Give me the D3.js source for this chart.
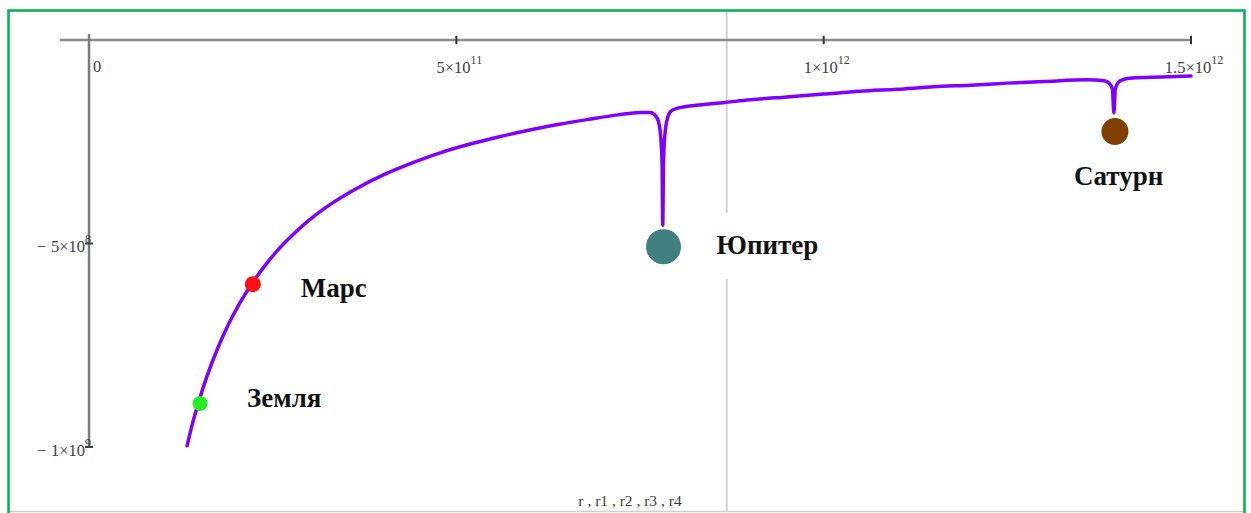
<!DOCTYPE html>
<html>
<head>
<meta charset="utf-8">
<script src="https://cdn.jsdelivr.net/npm/d3@7"></script>
<style>
  html, body { margin: 0; padding: 0; background: #fff; }
  svg { display: block; }
</style>
</head>
<body>
<svg id="chart" width="1251" height="513"></svg>
<script>
// Gravitational potential of the Sun along the radius, with wells of the planets.
// Radii in metres, potential in J/kg.
const curveR = [
  1.335e11, 1.40e11, 1.50e11, 1.60e11, 1.75e11, 1.90e11, 2.05e11, 2.23e11, 2.40e11,
  2.60e11, 2.80e11, 3.00e11, 3.30e11, 3.60e11, 4.00e11, 4.40e11, 4.80e11, 5.20e11,
  5.60e11, 6.00e11, 6.40e11, 6.80e11, 7.20e11, 7.50e11, 7.64e11, 7.71e11, 7.75e11,
  7.78e11, 7.80e11, 7.81e11, 7.82e11, 7.84e11, 7.87e11, 7.92e11, 8.00e11, 8.30e11,
  8.68e11, 9.00e11, 9.50e11, 1.00e12, 1.05e12, 1.10e12, 1.15e12, 1.20e12, 1.25e12,
  1.30e12, 1.36e12, 1.382e12, 1.389e12, 1.393e12, 1.395e12, 1.397e12, 1.401e12,
  1.408e12, 1.420e12, 1.460e12, 1.500e12
];
const curvePhi = [
  -9.97e8, -9.48e8, -8.85e8, -8.29e8, -7.58e8, -6.98e8, -6.47e8, -5.95e8, -5.53e8,
  -5.10e8, -4.74e8, -4.42e8, -4.02e8, -3.69e8, -3.32e8, -3.02e8, -2.76e8, -2.55e8,
  -2.37e8, -2.21e8, -2.07e8, -1.95e8, -1.84e8, -1.78e8, -1.78e8, -1.86e8, -2.00e8,
  -2.35e8, -3.00e8, -4.55e8, -3.00e8, -2.30e8, -1.95e8, -1.75e8, -1.68e8, -1.60e8,
  -1.53e8, -1.47e8, -1.40e8, -1.33e8, -1.26e8, -1.21e8, -1.15e8, -1.11e8, -1.06e8,
  -1.02e8, -0.98e8, -1.00e8, -1.07e8, -1.20e8, -1.79e8, -1.20e8, -1.04e8,
  -0.97e8, -0.935e8, -0.91e8, -0.885e8
];

// Planet markers r1..r4
const planetNames = ["Земля", "Марс", "Юпитер", "Сатурн"];
const planetR     = [1.512e11, 2.23e11, 7.82e11, 1.3965e12];
const planetPhi   = [-8.93e8, -6.00e8, -5.08e8, -2.25e8];
const planetColor = ["#22ee22", "#ff1010", "#3f7f7f", "#804000"];
const planetSize  = [7.5, 8, 17.5, 13.5];

// Axis ticks
const xTicks = [5e11, 1e12, 1.5e12];
const xTickLabels = [["5×10", "11"], ["1×10", "12"], ["1.5×10", "12"]];
const yTicks = [-5e8, -1e9];
const yTickLabels = [["5×10", "8"], ["1×10", "9"]];
const axisTitle = "r , r1 , r2 , r3 , r4";
const cursorR = 8.68e11;

const svg = d3.select("#chart");

const x = d3.scaleLinear().domain([-3.95e10, 1.5e12]).range([60, 1191]);
const y = d3.scaleLinear().domain([1.47e7, -1e9]).range([34, 447]);

// Frame
svg.append("rect").attr("x", 0).attr("y", 0).attr("width", 1251).attr("height", 513).attr("fill", "#fff");
svg.append("line").attr("x1", 8).attr("x2", 1245).attr("y1", 511.5).attr("y2", 511.5)
  .attr("stroke", "#cfcfcf").attr("stroke-width", 1.5);

// Light vertical cursor line
svg.append("line")
  .attr("x1", x(cursorR)).attr("x2", x(cursorR))
  .attr("y1", 11).attr("y2", 511)
  .attr("stroke", "#d2d2d2").attr("stroke-width", 2);

// Axes crossing at the origin
const axisG = svg.append("g");
axisG.append("line")
  .attr("x1", x.range()[0]).attr("x2", x.range()[1])
  .attr("y1", y(0)).attr("y2", y(0))
  .attr("stroke", "#8a8a8a").attr("stroke-width", 2.5);
axisG.append("line")
  .attr("x1", x(0)).attr("x2", x(0))
  .attr("y1", y.range()[0]).attr("y2", y.range()[1])
  .attr("stroke", "#7a7a7a").attr("stroke-width", 2.5);

xTicks.forEach(t => {
  axisG.append("line")
    .attr("x1", x(t)).attr("x2", x(t))
    .attr("y1", y(0) - 4).attr("y2", y(0) + 4)
    .attr("stroke", "#333").attr("stroke-width", 2);
});
yTicks.forEach(t => {
  axisG.append("line")
    .attr("x1", x(0) - 4).attr("x2", x(0) + 4)
    .attr("y1", y(t)).attr("y2", y(t))
    .attr("stroke", "#444").attr("stroke-width", 2);
});

const tickFont = "'Liberation Serif', 'Times New Roman', serif";
const tickColor = "#3c3c3c";

function powerLabel(g, parts, px, py, anchor, minus) {
  const t = g.append("text")
    .attr("x", px).attr("y", py)
    .attr("text-anchor", anchor)
    .attr("font-family", tickFont)
    .attr("font-size", 16.5)
    .attr("fill", tickColor);
  if (minus) {
    t.append("tspan").text("−");
    t.append("tspan").attr("dx", 5).text(parts[0]);
  } else {
    t.append("tspan").text(parts[0]);
  }
  t.append("tspan").attr("dy", -9).attr("font-size", 12).text(parts[1]);
  return t;
}

// Origin label
axisG.append("text")
  .attr("x", x(0) + 4).attr("y", y(0) + 32)
  .attr("font-family", tickFont).attr("font-size", 16.5)
  .attr("fill", tickColor).text("0");

xTicks.forEach((t, i) => powerLabel(axisG, xTickLabels[i], x(t) + 3, y(0) + 33, "middle", false));
yTicks.forEach((t, i) => powerLabel(axisG, yTickLabels[i], x(0) + 2, y(t) + 9, "end", true));

// Axis title
axisG.append("text")
  .attr("x", 630).attr("y", 506)
  .attr("text-anchor", "middle")
  .attr("font-family", tickFont).attr("font-size", 15.5)
  .attr("fill", tickColor)
  .text(axisTitle);

// Potential curve
const pts = curveR.map((r, i) => [r, curvePhi[i]]);
const line = d3.line().x(d => x(d[0])).y(d => y(d[1])).curve(d3.curveMonotoneX);
svg.append("path")
  .datum(pts)
  .attr("d", line)
  .attr("fill", "none")
  .attr("stroke", "#8000ff")
  .attr("stroke-width", 3.5)
  .attr("stroke-linejoin", "round")
  .attr("stroke-linecap", "round");

// Planet markers and names
const labelOffsets = [[47, 4], [48, 13], [53, 7], [-41, 53]];
planetNames.forEach((name, i) => {
  const cx = x(planetR[i]), cy = y(planetPhi[i]);
  if (name === "Юпитер") {
    svg.append("rect")
      .attr("x", cx + labelOffsets[i][0] - 6).attr("y", cy - 34)
      .attr("width", 118).attr("height", 66)
      .attr("fill", "#fff");
  }
  svg.append("circle")
    .attr("cx", cx).attr("cy", cy).attr("r", planetSize[i])
    .attr("fill", planetColor[i]);
  svg.append("text")
    .attr("x", cx + labelOffsets[i][0]).attr("y", cy + labelOffsets[i][1])
    .attr("font-family", "'Liberation Serif', 'Times New Roman', serif")
    .attr("font-weight", "bold")
    .attr("font-size", 27)
    .attr("fill", "#111")
    .text(name);
});

// Outer green frame
svg.append("rect")
  .attr("x", 8.5).attr("y", 10.5).attr("width", 1236).attr("height", 520)
  .attr("fill", "none").attr("stroke", "#00b050").attr("stroke-width", 2.5);
</script>
</body>
</html>
